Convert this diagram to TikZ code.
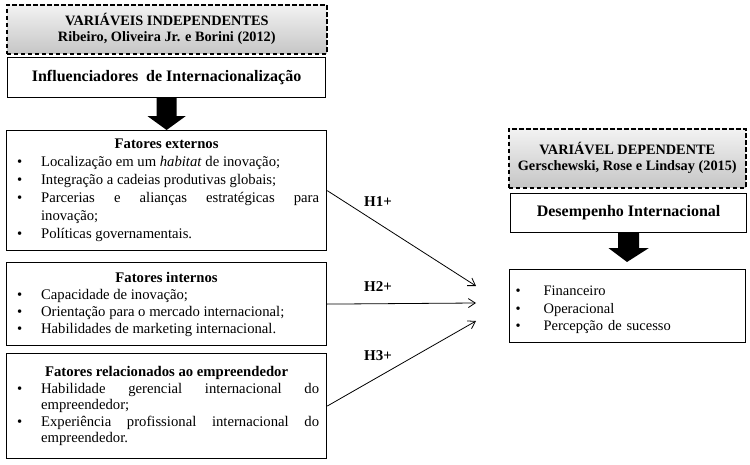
\documentclass[tikz,border=0pt]{standalone}
\usepackage{fontspec}
\setmainfont{Liberation Serif}
\usetikzlibrary{calc,arrows.meta}
\hyphenpenalty=10000
\exhyphenpenalty=10000
\hbadness=10000
\newcommand{\bul}[1]{\par\noindent\hangindent=27pt\hangafter=1\makebox[27pt][l]{\hspace{3pt}\textbullet}#1\par}
\newcommand{\rbul}[1]{\par\noindent\hangindent=30pt\hangafter=1\makebox[30pt][l]{\hspace{2pt}\textbullet}#1\par}
\newcommand{\ctitle}[1]{{\centering\bfseries #1\par}}
\tikzset{
  lbox/.style={draw, line width=1.2pt, fill=white, anchor=north west, inner xsep=7pt, inner ysep=0pt,
    text width=305pt, minimum width=320pt, align=justify},
  hdr/.style={draw, line width=1.6pt, dash pattern=on 4.5pt off 2.5pt, top color=gray!10, bottom color=gray!45,
    anchor=north west, align=center, inner sep=0pt, font=\fontsize{14.3}{16}\selectfont\bfseries},
  lblbox/.style={draw, line width=1.2pt, fill=white, anchor=north west, inner sep=0pt, align=center,
    font=\fontsize{16}{18}\selectfont\bfseries},
  hyp/.style={line width=0.8pt, -{Straight Barb[length=7pt,width=9pt]}},
  hlab/.style={font=\fontsize{15}{16}\selectfont\bfseries},
  bigarrow/.style={fill=black}
}
\begin{document}
\begin{tikzpicture}[x=1pt,y=-1pt]
\useasboundingbox (0,0) rectangle (750,465);
% left column
\node[hdr, minimum width=320pt, minimum height=49pt] (lh) at (6,4)
  {VARIÁVEIS INDEPENDENTES\\Ribeiro, Oliveira Jr. e Borini (2012)};
\node[lblbox, minimum width=318pt, minimum height=40pt] (infl) at (7,57)
  {Influenciadores\ \ de Internacionalização};
\node[lbox, minimum height=120pt, font=\fontsize{14.7}{18}\selectfont] (ext) at (6,130) {%
  \ctitle{Fatores externos}%
  \bul{Localização em um \textit{habitat} de inovação;}%
  \bul{Integração a cadeias produtivas globais;}%
  \bul{Parcerias e alianças estratégicas para\linebreak inovação;}%
  \bul{Políticas governamentais.}};
\node[lbox, minimum height=83pt, font=\fontsize{14.7}{17}\selectfont] (int) at (6,262) {%
  \ctitle{Fatores internos}%
  \bul{Capacidade de inovação;}%
  \bul{Orientação para o mercado internacional;}%
  \bul{Habilidades de marketing internacional.}};
\node[lbox, minimum height=105pt, font=\fontsize{14.7}{16.6}\selectfont] (rel) at (6,353) {%
  \ctitle{Fatores relacionados ao empreendedor}%
  \bul{Habilidade gerencial internacional do\linebreak empreendedor;}%
  \bul{Experiência profissional internacional do\linebreak empreendedor.}};
% left thick arrow
\fill[bigarrow] ($(infl.south)+(-10,0)$) -- ($(infl.south)+(10,0)$) -- ($(infl.south)+(10,18)$)
  -- ($(infl.south)+(19,18)$) -- (ext.north) -- ($(infl.south)+(-19,18)$) -- ($(infl.south)+(-10,18)$) -- cycle;
% right column
\node[hdr, minimum width=237pt, minimum height=59pt] (rh) at (508,128)
  {VARIÁVEL DEPENDENTE\\Gerschewski, Rose e Lindsay (2015)};
\node[lblbox, minimum width=236pt, minimum height=39pt] (des) at (510,193)
  {Desempenho Internacional};
\node[draw, line width=1.2pt, anchor=north west, minimum width=236pt, minimum height=73pt,
  inner xsep=4pt, inner ysep=0pt, text width=228pt, font=\fontsize{14.5}{17.5}\selectfont] (perf) at (509,269) {%
  \rbul{Financeiro}%
  \rbul{Operacional}%
  \rbul{Percepção de sucesso}};
\coordinate (rtip) at (627,262);
\fill[bigarrow] ($(des.south)+(-10.5,0)$) -- ($(des.south)+(10.5,0)$) -- ($(des.south)+(10.5,15)$)
  -- ($(des.south)+(20,15)$) -- (rtip) -- ($(des.south)+(-20,15)$) -- ($(des.south)+(-10.5,15)$) -- cycle;
% hypotheses
\coordinate (t1) at (476,286);
\coordinate (t2) at (476,303);
\coordinate (t3) at (476,321);
\draw[hyp] (ext.east) -- (t1);
\draw[hyp] (int.east) -- (t2);
\draw[hyp] (rel.east) -- (t3);
\node[hlab] (h1) at (378,202) {H1+};
\node[hlab] (h2) at (378,287) {H2+};
\node[hlab] (h3) at (378,356) {H3+};
\end{tikzpicture}
\end{document}
